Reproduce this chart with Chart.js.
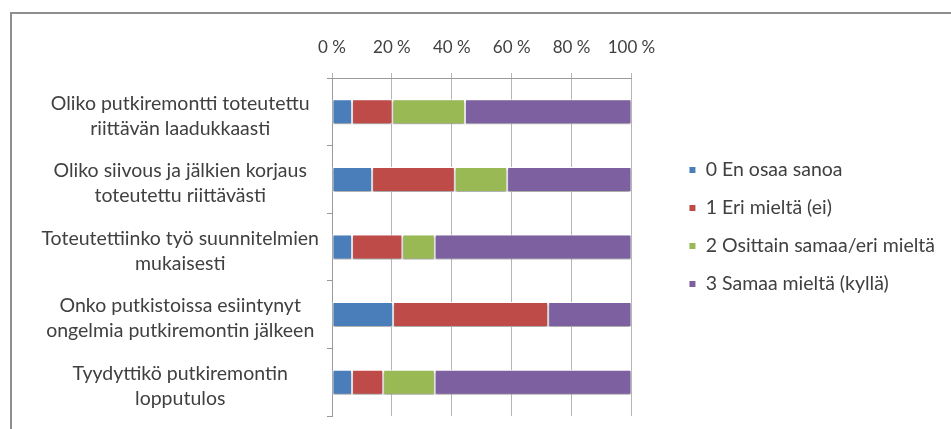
<!DOCTYPE html>
<html>
<head>
<meta charset="utf-8">
<script src="https://cdn.jsdelivr.net/npm/chart.js@4.4.1/dist/chart.umd.min.js"></script>
<style>
  html, body { margin: 0; padding: 0; background: #fff; }
  #wrap { position: relative; width: 951px; height: 429px; }
  #frame { position: absolute; left: 10px; top: 12px; right: 0; bottom: 0;
           border-top: 2px solid #8e8e8e; border-left: 2px solid #8e8e8e; pointer-events: none; }
</style>
</head>
<body>
<div id="wrap">
  <canvas id="myChart" width="951" height="429"></canvas>
  <div id="frame"></div>
</div>
<script>
// questions, each split over two lines
const categories = [
    ['Oliko putkiremontti toteutettu', 'riittävän laadukkaasti'],
    ['Oliko siivous ja jälkien korjaus', 'toteutettu riittävästi'],
    ['Toteutettiinko työ suunnitelmien', 'mukaisesti'],
    ['Onko putkistoissa esiintynyt', 'ongelmia putkiremontin jälkeen'],
    ['Tyydyttikö putkiremontin', 'lopputulos']
];

// answer shares in percent
const enOsaaSanoa = [6.7, 13.4, 6.7, 20.4, 6.7];
const eriMielta = [13.5, 27.6, 16.8, 51.8, 10.4];
const osittainSamaa = [24.2, 17.5, 10.8, 0, 17.2];
const samaaMielta = [55.6, 41.5, 65.7, 27.8, 65.7];

const seriesNames = ['0 En osaa sanoa', '1 Eri mieltä (ei)', '2 Osittain samaa/eri mieltä', '3 Samaa mieltä (kyllä)'];
const xTicks = [0, 20, 40, 60, 80, 100];

const FONT = 'Lato, "Open Sans", sans-serif';
const TEXT = '#404040';

// empty layout box that keeps the legend away from the plot
const legendGap = {
    id: 'legendGap',
    beforeInit(chart) {
        Chart.layouts.addBox(chart, {
            position: 'right',
            weight: 500,
            fullSize: false,
            options: {},
            update(maxWidth, maxHeight) { this.width = 39; this.height = maxHeight; },
            isHorizontal() { return false; },
            draw() {}
        });
    }
};

// soft shadow under the bars
const barShadow = {
    id: 'barShadow',
    beforeDatasetsDraw(chart) {
        const ctx = chart.ctx;
        ctx.save();
        ctx.shadowColor = 'rgba(0,0,0,0.35)';
        ctx.shadowOffsetY = 2;
        ctx.shadowBlur = 2;
    },
    afterDatasetsDraw(chart) {
        chart.ctx.restore();
    }
};

var ctx = document.getElementById('myChart').getContext('2d');
var myChart = new Chart(ctx, {
    type: 'bar',
    data: {
        labels: categories,
        datasets: [
            { label: seriesNames[0], data: enOsaaSanoa, backgroundColor: '#4a7ebb' },
            { label: seriesNames[1], data: eriMielta, backgroundColor: '#be4b48' },
            { label: seriesNames[2], data: osittainSamaa, backgroundColor: '#98b954' },
            { label: seriesNames[3], data: samaaMielta, backgroundColor: '#7d60a0' }
        ]
    },
    plugins: [legendGap, barShadow],
    options: {
        indexAxis: 'y',
        responsive: false,
        animation: false,
        layout: { padding: { left: 10, top: 38, bottom: 13, right: 6 } },
        datasets: {
            bar: {
                categoryPercentage: 1,
                barPercentage: 0.37,
                borderColor: '#ffffff',
                borderWidth: 1,
                borderSkipped: false
            }
        },
        scales: {
            x: {
                position: 'top',
                stacked: true,
                min: 0,
                max: 100,
                afterBuildTicks(scale) { scale.ticks = xTicks.map(v => ({ value: v })); },
                afterFit(scale) { scale.height = 40; },
                grid: { color: '#b5b5b5', tickLength: 5 },
                border: { color: '#9a9a9a' },
                ticks: {
                    padding: 15,
                    color: TEXT,
                    font: { family: FONT, size: 17 },
                    callback: v => v + ' %'
                }
            },
            y: {
                stacked: true,
                afterFit(scale) {
                    scale.width = 322;
                    scale.paddingTop = 0;
                    scale.paddingBottom = 0;
                },
                grid: { drawOnChartArea: false, color: '#9a9a9a', tickLength: 5 },
                border: { color: '#9a9a9a' },
                ticks: {
                    padding: 8,
                    crossAlign: 'center',
                    labelOffset: 4,
                    color: TEXT,
                    font: { family: FONT, size: 19.5, lineHeight: '25px' }
                }
            }
        },
        plugins: {
            legend: {
                position: 'right',
                maxWidth: 330,
                labels: {
                    boxWidth: 7,
                    boxHeight: 7,
                    padding: 18.5,
                    color: TEXT,
                    font: { family: FONT, size: 19.5 }
                }
            },
            tooltip: { enabled: false }
        }
    }
});
</script>
</body>
</html>
